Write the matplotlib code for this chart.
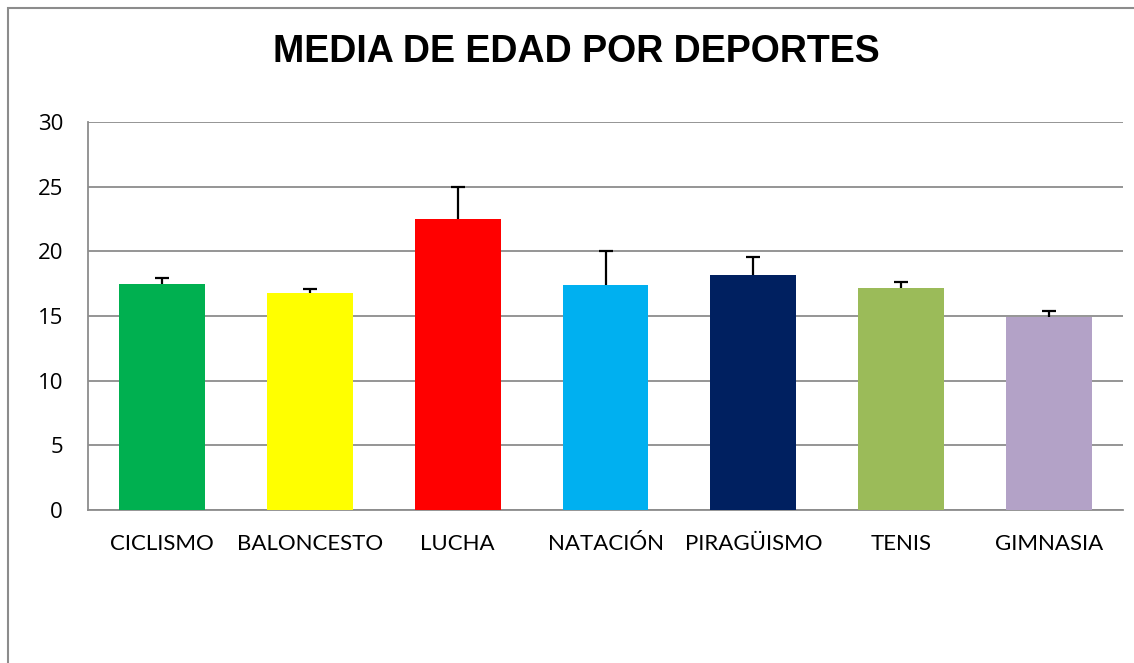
import matplotlib.pyplot as plt
import matplotlib.patches as mpatches
import numpy as np

deportes = ['CICLISMO', 'BALONCESTO', 'LUCHA', 'NATACIÓN', 'PIRAGÜISMO', 'TENIS', 'GIMNASIA']
media_edad = [17.5, 16.8, 22.5, 17.4, 18.2, 17.2, 14.9]
desviacion = [0.45, 0.3, 2.5, 2.6, 1.4, 0.45, 0.45]
colores = ['#00B050', '#FFFF00', '#FF0000', '#00B0F0', '#002060', '#9BBB59', '#B3A2C7']

W, H = 1134, 663
fig = plt.figure(figsize=(W / 100, H / 100), dpi=100, facecolor='w')

# chart frame
fig.patches.append(mpatches.Rectangle((8 / W, -0.1), 1.2, (H - 8) / H + 0.1,
                                      transform=fig.transFigure, fill=False,
                                      edgecolor='#8c8c8c', linewidth=1.5))

ax = fig.add_axes([88 / W, (H - 510) / H, (1123 - 88) / W, 388 / H])

x = np.arange(len(deportes))
ax.bar(x, media_edad, width=0.58, color=colores, zorder=3)

# upper error bars only (stem + top cap)
tope = np.add(media_edad, desviacion)
ax.vlines(x, media_edad, tope, color='black', linewidth=1.6, zorder=4)
ax.plot(x, tope, linestyle='none', marker='_', markersize=10,
        markeredgewidth=1.6, color='black', zorder=4)

ax.set_xlim(-0.5, len(deportes) - 0.5)
ax.set_ylim(0, 30)
ax.set_yticks(range(0, 31, 5))
ax.set_xticks(x)
ax.set_xticklabels(deportes)
ax.yaxis.grid(True, color='#8c8c8c', linewidth=1.3, zorder=0)
ax.set_axisbelow(True)

for s in ['top', 'right']:
    ax.spines[s].set_visible(False)
for s in ['left', 'bottom']:
    ax.spines[s].set_color('#8c8c8c')
    ax.spines[s].set_linewidth(1.3)

ax.tick_params(length=0, labelsize=16)
ax.tick_params(axis='x', pad=17)
ax.tick_params(axis='y', pad=18)
for lab in ax.get_xticklabels():
    lab.set_family('Lato')
for lab in ax.get_yticklabels():
    lab.set_family('Open Sans')

fig.text(576 / W, 1 - 52 / H, 'MEDIA DE EDAD POR DEPORTES', ha='center', va='center',
         fontsize=27, fontweight='bold', family='Liberation Sans')

plt.savefig('out.png', dpi=100)
